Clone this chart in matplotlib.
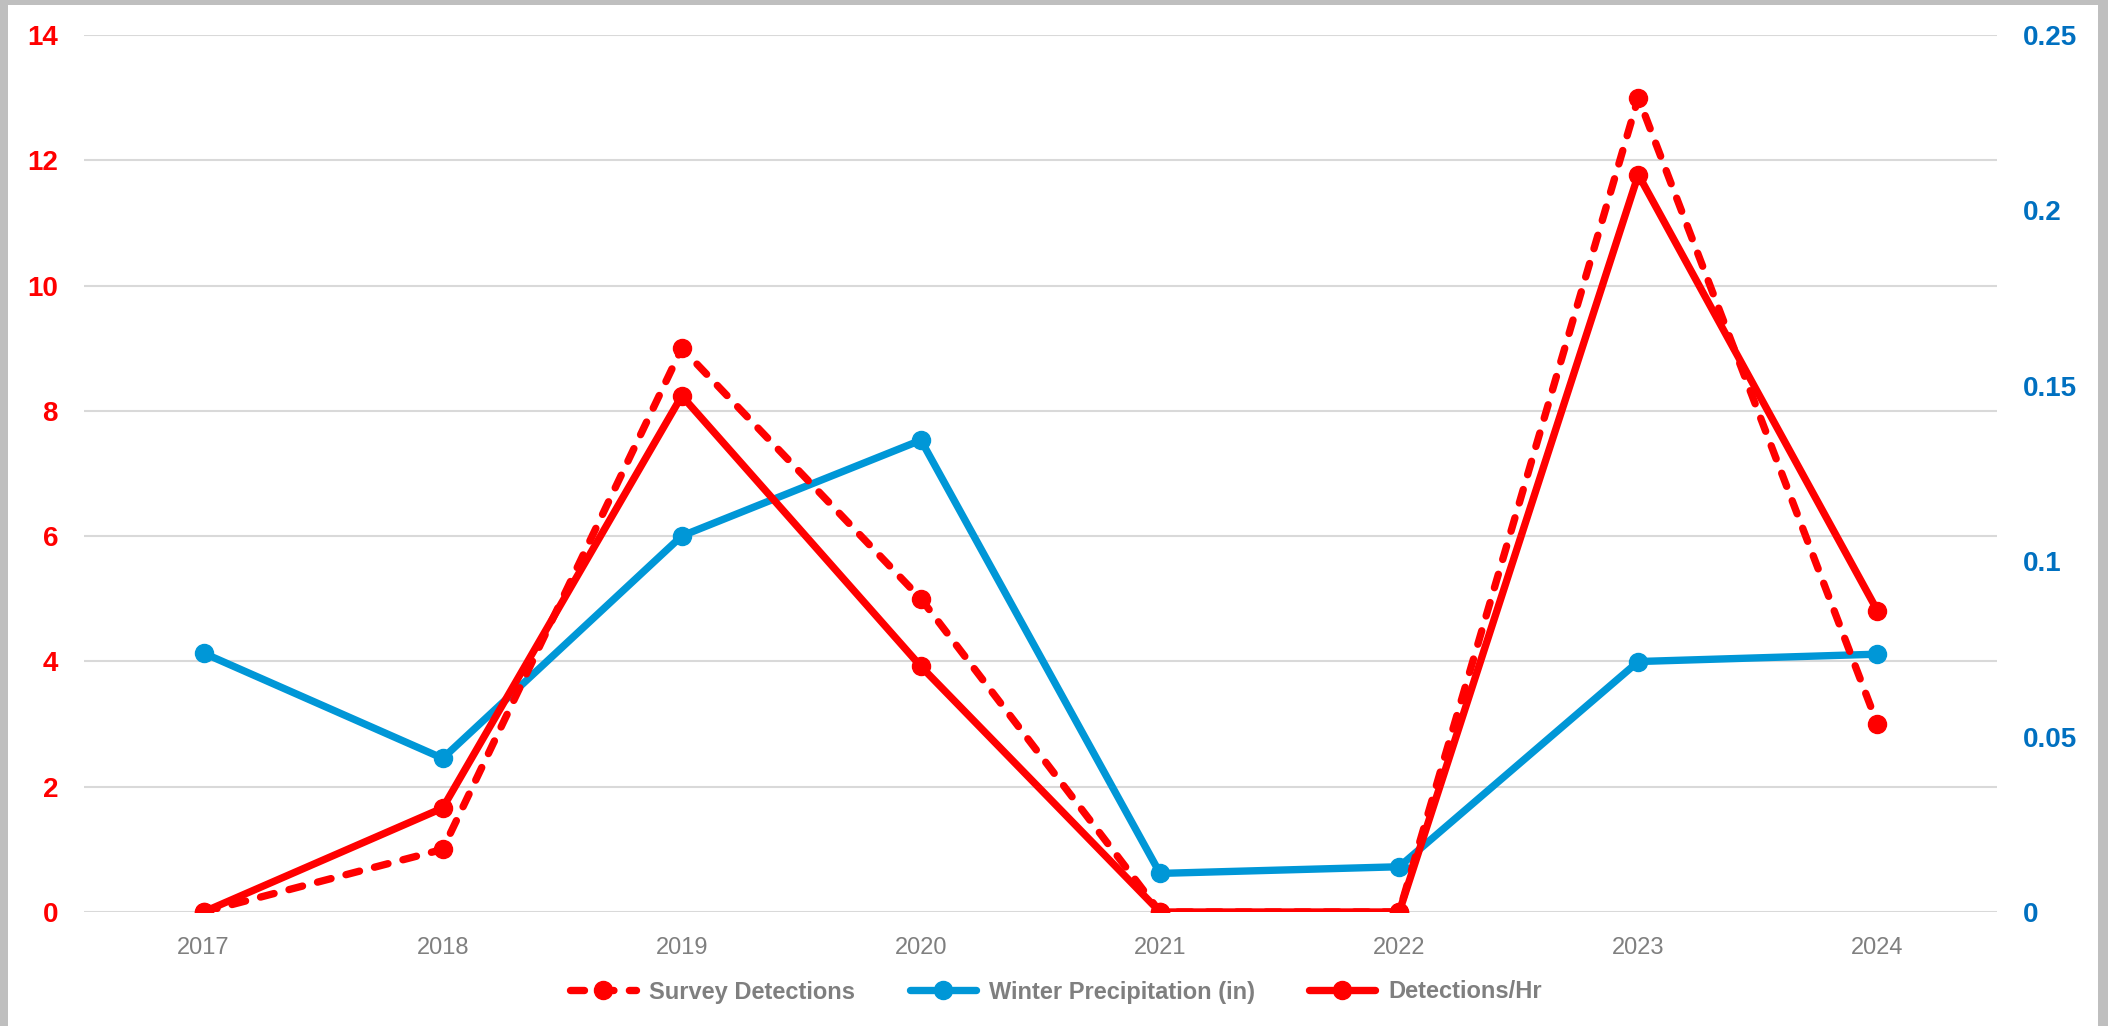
import matplotlib
matplotlib.use('Agg')
import matplotlib.pyplot as plt
from matplotlib.patches import Rectangle
from matplotlib.ticker import FuncFormatter

plt.rcParams['font.family'] = ['Liberation Sans', 'DejaVu Sans']

years = ['2017', '2018', '2019', '2020', '2021', '2022', '2023', '2024']
survey_detections = [0, 1, 9, 5, 0, 0, 13, 3]
detections_per_hr = [0, 1.66, 8.24, 3.92, 0, 0, 11.77, 4.81]
winter_precip = [0.0738, 0.0438, 0.1072, 0.1345, 0.011, 0.0129, 0.0714, 0.0735]
left_ticks = [0, 2, 4, 6, 8, 10, 12, 14]
right_ticks = [0, 0.05, 0.1, 0.15, 0.2, 0.25]

RED = '#ff0000'
BLUE = '#0097d7'
BLUE_TXT = '#0070c0'
GRAY = '#7f7f7f'
GRID = '#d9d9d9'

fig = plt.figure(figsize=(21.08, 10.26), dpi=100)
fig.patch.set_facecolor('#bfbfbf')
# white card with a thin grey frame on left, top and right
card = Rectangle((8 / 2108, 0), 2090 / 2108, 1021 / 1026,
                 transform=fig.transFigure, facecolor='white',
                 edgecolor='none', zorder=-10)
fig.patches.append(card)

ax = fig.add_axes([84 / 2108, 114 / 1026, 1913 / 2108, 877 / 1026])
ax2 = ax.twinx()
# red series sit on top of the blue one
ax.set_zorder(2)
ax2.set_zorder(1)
ax.set_facecolor('none')
ax2.set_facecolor('none')

x = list(range(len(years)))

ax.set_xlim(-0.5, 7.5)
ax.set_ylim(0, 14)
ax.set_yticks(left_ticks)
ax2.set_ylim(0, 0.25)
ax2.set_yticks(right_ticks)
ax2.yaxis.set_major_formatter(FuncFormatter(lambda v, p: f'{v:g}'))

# gridlines follow the left scale but are drawn on the lower axes
ax2.hlines(left_ticks, 0, 1, transform=ax.get_yaxis_transform(),
           color=GRID, linewidth=1.5, zorder=0)

l2, = ax2.plot(x, winter_precip, color=BLUE, linewidth=5.3, marker='o',
               markersize=13, solid_capstyle='round', zorder=3,
               label='Winter Precipitation (in)')
l1, = ax.plot(x, survey_detections, color=RED, linewidth=5.3, marker='o',
              markersize=13, dashes=(1.9, 2.1), dash_capstyle='round',
              label='Survey Detections')
l3, = ax.plot(x, detections_per_hr, color=RED, linewidth=5.3, marker='o',
              markersize=13, solid_capstyle='round', label='Detections/Hr')

ax.set_xticks(x)
ax.set_xticklabels(years)

for a in (ax, ax2):
    for s in a.spines.values():
        s.set_visible(False)

ax.tick_params(axis='x', length=0, pad=18, labelsize=17, labelcolor=GRAY)
ax.tick_params(axis='y', length=0, pad=18.7, labelsize=20, labelcolor=RED)
ax2.tick_params(axis='y', length=0, pad=18.7, labelsize=20, labelcolor=BLUE_TXT)
for lab in ax.get_yticklabels() + ax2.get_yticklabels():
    lab.set_fontweight('bold')

leg = fig.legend(handles=[l1, l2, l3], loc='center', ncol=3,
                 bbox_to_anchor=(1056 / 2108, 34 / 1026), frameon=False,
                 prop={'size': 17, 'weight': 'bold'}, handlelength=2.8,
                 handletextpad=0.55, columnspacing=2.3)
for t in leg.get_texts():
    t.set_color(GRAY)

fig.savefig('out.png', dpi=100, facecolor=fig.get_facecolor())
